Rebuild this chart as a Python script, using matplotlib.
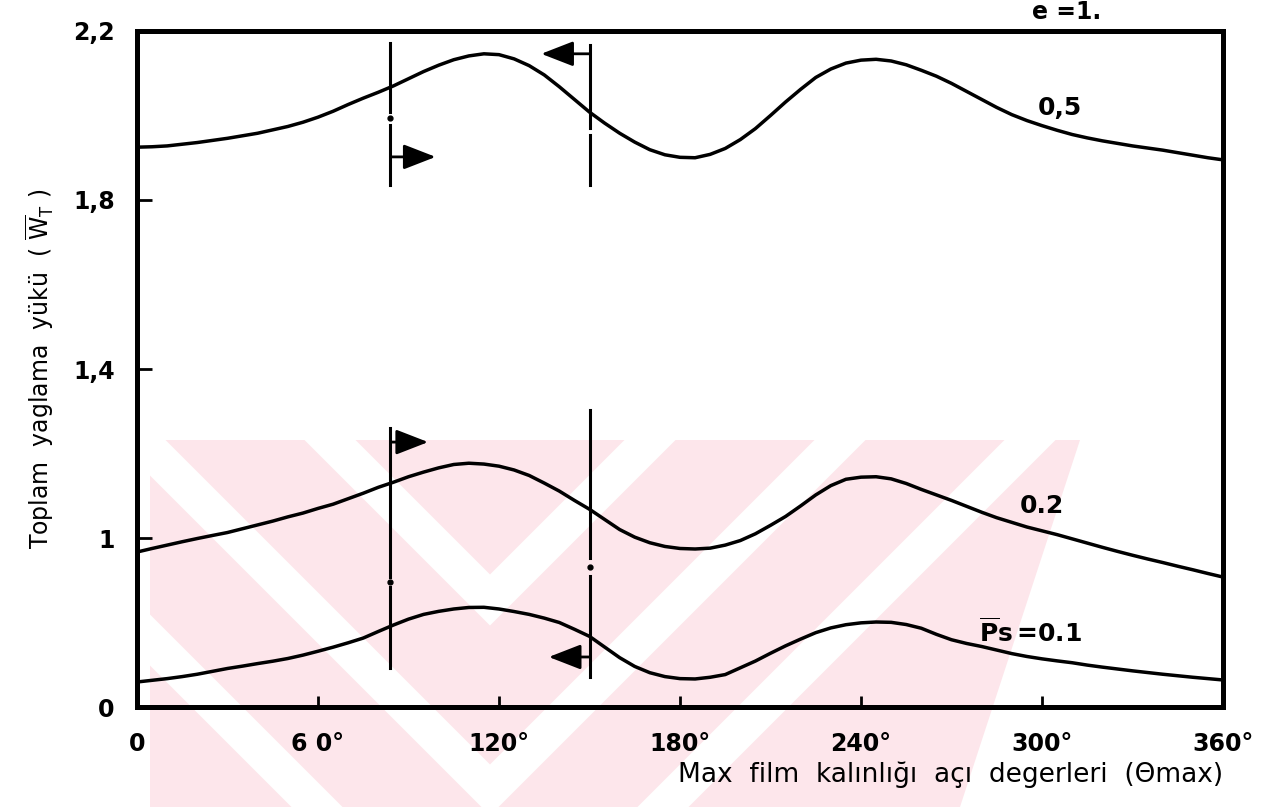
import numpy as np
import matplotlib.pyplot as plt
from matplotlib.patches import Polygon

plt.rcParams['mathtext.fontset'] = 'dejavusans'

# theta_max (degrees) and total load W_T for each supply pressure Ps
theta = np.arange(0, 365, 5)

ps_05 = [1.925, 1.926, 1.928, 1.932, 1.936, 1.941, 1.946, 1.952, 1.958, 1.966, 1.974, 1.984,
         1.996, 2.010, 2.026, 2.041, 2.055, 2.070, 2.087, 2.104, 2.119, 2.132, 2.141, 2.146,
         2.144, 2.134, 2.118, 2.096, 2.068, 2.038, 2.008, 1.982, 1.958, 1.937, 1.919, 1.907,
         1.901, 1.900, 1.908, 1.922, 1.943, 1.969, 2.000, 2.032, 2.062, 2.090, 2.110, 2.124,
         2.131, 2.133, 2.129, 2.120, 2.107, 2.093, 2.076, 2.057, 2.038, 2.019, 2.002, 1.988,
         1.976, 1.965, 1.955, 1.947, 1.940, 1.934, 1.928, 1.923, 1.918, 1.912, 1.906, 1.900,
         1.895]
ps_02 = [0.917, 0.938, 0.958, 0.978, 0.997, 1.006, 1.013, 1.022, 1.031, 1.040, 1.050, 1.059,
         1.070, 1.080, 1.093, 1.106, 1.120, 1.132, 1.145, 1.156, 1.166, 1.174, 1.177, 1.175,
         1.170, 1.161, 1.148, 1.130, 1.111, 1.089, 1.068, 1.044, 1.020, 1.002, 0.972, 0.950,
         0.938, 0.935, 0.940, 0.958, 0.985, 1.010, 1.030, 1.051, 1.076, 1.102, 1.124, 1.139,
         1.144, 1.145, 1.140, 1.129, 1.115, 1.102, 1.089, 1.075, 1.061, 1.048, 1.037, 1.026,
         1.017, 1.008, 0.995, 0.970, 0.945, 0.921, 0.898, 0.876, 0.855, 0.833, 0.812, 0.790,
         0.769]
ps_01 = [0.148, 0.158, 0.168, 0.180, 0.194, 0.211, 0.228, 0.242, 0.257, 0.271, 0.287, 0.307,
         0.330, 0.354, 0.380, 0.408, 0.447, 0.485, 0.520, 0.548, 0.566, 0.580, 0.589, 0.590,
         0.580, 0.565, 0.548, 0.526, 0.500, 0.460, 0.418, 0.355, 0.292, 0.240, 0.203, 0.180,
         0.168, 0.166, 0.176, 0.192, 0.232, 0.272, 0.318, 0.362, 0.402, 0.440, 0.468, 0.487,
         0.498, 0.503, 0.501, 0.488, 0.466, 0.430, 0.398, 0.376, 0.358, 0.337, 0.316, 0.299,
         0.285, 0.273, 0.262, 0.248, 0.236, 0.225, 0.214, 0.204, 0.194, 0.185, 0.176, 0.168,
         0.160]

curve_labels = ['0,5', '0.2', r'$\overline{\mathbf{P}}\mathbf{s}\,$=0.1']
label_theta = [306, 300, 296]
label_value = [2.018, 1.076, 0.444]

x_ticks = [0, 60, 120, 180, 240, 300, 360]
x_tick_labels = ['0', '6 0°', '120°', '180°', '240°', '300°', '360°']
y_ticks = [0, 1, 1.4, 1.8, 2.2]
y_tick_labels = ['0', '1', '1,4', '1,8', '2,2']

# dash-dot guide lines: angle, bottom, gap start, gap end, top, dot
guide_theta = [84, 150, 84, 150]
guide_bottom = [1.836, 1.836, 0.231, 0.178]
guide_gap_lo = [1.978, 1.954, 0.712, 0.776]
guide_gap_hi = [2.008, 1.970, 0.772, 0.880]
guide_top = [2.172, 2.167, 1.260, 1.303]
guide_dot = [1.994, None, 0.742, 0.828]

# arrows: start angle, tip angle, level
arrow_start = [84, 150, 84, 150]
arrow_tip = [99, 134, 96.5, 136.5]
arrow_level = [1.902, 2.146, 1.227, 0.296]


def fwd(v):
    v = np.asarray(v, dtype=float)
    return np.where(v <= 1, v, 1 + (v - 1) / 0.4)


def inv(p):
    p = np.asarray(p, dtype=float)
    return np.where(p <= 1, p, 1 + (p - 1) * 0.4)


fig = plt.figure(figsize=(12.65, 8.07), dpi=100)

# faint watermark in the background
bg = fig.add_axes([0, 0, 1, 1], zorder=0)
bg.set_xlim(0, 1265)
bg.set_ylim(807, 0)
bg.axis('off')
pink = '#fde6eb'
outline = [(150, 440), (1080, 440), (960, 807), (150, 807)]
bg.add_patch(Polygon(outline, closed=True, facecolor=pink, edgecolor='none'))
clip = Polygon(outline, closed=True, facecolor='none', edgecolor='none',
               transform=bg.transData)
bg.add_patch(clip)
for tip in [410, 600, 790, 980]:
    ln, = bg.plot([490 - 700, 490, 490 + 700], [tip - 700, tip, tip - 700],
                  color='white', lw=26, solid_joinstyle='miter')
    ln.set_clip_path(clip)

ax = fig.add_axes([0.1083, 0.1239, 0.8585, 0.8377], zorder=1)
ax.set_facecolor('none')
ax.set_yscale('function', functions=(fwd, inv))

for vals in [ps_05, ps_02, ps_01]:
    ax.plot(theta, vals, color='black', lw=2.5, solid_joinstyle='round')

for i in range(len(guide_theta)):
    t = guide_theta[i]
    ax.plot([t, t], [guide_bottom[i], guide_gap_lo[i]], color='black', lw=2.2)
    ax.plot([t, t], [guide_gap_hi[i], guide_top[i]], color='black', lw=2.2)
    if guide_dot[i] is not None:
        ax.plot([t], [guide_dot[i]], 'o', color='black', ms=3.5)

for i in range(len(arrow_start)):
    ax.annotate('', xy=(arrow_tip[i], arrow_level[i]),
                xytext=(arrow_start[i], arrow_level[i]),
                arrowprops=dict(arrowstyle='-|>,head_length=0.9,head_width=0.35',
                                color='black', lw=2.0, mutation_scale=22,
                                shrinkA=0, shrinkB=0))

for lab, tx, ty in zip(curve_labels, label_theta, label_value):
    ax.text(tx, ty, lab, ha='center', va='center', fontsize=18,
            fontweight='bold')

ax.text(308, 2.245, 'e =1.', ha='center', va='center', fontsize=17,
        fontweight='bold', clip_on=False)

ax.set_xlim(0, 360)
ax.set_ylim(0, 2.2)
ax.set_xticks(x_ticks)
ax.set_xticklabels(x_tick_labels, fontsize=17, fontweight='bold')
ax.set_yticks(y_ticks)
ax.set_yticklabels(y_tick_labels, fontsize=17, fontweight='bold')
ax.tick_params(axis='x', direction='in', length=8, width=2, pad=18)
ax.tick_params(axis='y', direction='in', length=11, width=2, pad=16)
for s in ax.spines.values():
    s.set_linewidth(3.6)

ax.set_xlabel('Max  film  kalınlığı  açı  degerleri  (Θmax)', fontsize=19,
              loc='right', labelpad=4)
ax.set_ylabel(r'Toplam  yaglama  yükü  ( $\overline{\mathrm{W}}_{\mathrm{T}}$ )',
              fontsize=17, labelpad=12)

fig.savefig('out.png', dpi=100)
